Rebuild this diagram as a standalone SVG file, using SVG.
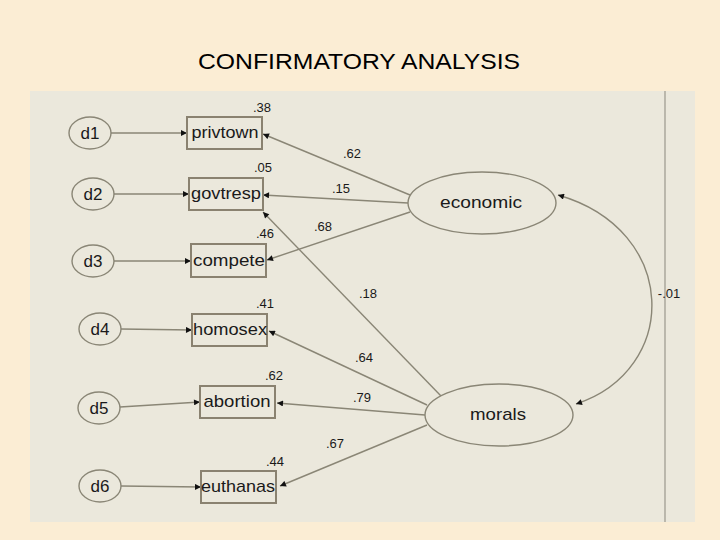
<svg xmlns="http://www.w3.org/2000/svg" width="720" height="540" viewBox="0 0 720 540">
<style>
  .bg{fill:#fbedd4}
  .panel{fill:#ebe8dc}
  .node ellipse{fill:#ebe8dc;stroke:#8a8676;stroke-width:1.4}
  .node rect{fill:#ebe8dc;stroke:#8a8270;stroke-width:2}
  .lbl{font-family:"Liberation Sans",Arial,sans-serif;font-size:17px;fill:#1a1a1a}
  .num{font-family:"Liberation Sans",Arial,sans-serif;font-size:13px;fill:#1a1a1a}
  .title{font-family:"Liberation Sans",Arial,sans-serif;font-size:22px;fill:#000}
  #connectors path,#connectors line{stroke:#8a8676;stroke-width:1.4;fill:none}
</style>
<defs>
  <marker id="ah" viewBox="0 0 10 10" refX="10" refY="5" markerWidth="7" markerHeight="6" markerUnits="userSpaceOnUse" orient="auto-start-reverse">
    <path d="M0,0 L10,5 L0,10 z" fill="#111"/>
  </marker>
</defs>
<rect class="bg" x="0" y="0" width="720" height="540"/>
<rect class="panel" x="30" y="91" width="665" height="431"/>
<line x1="665" y1="91" x2="665" y2="522" stroke="#9a978c" stroke-width="1.2"/>
<text class="title" x="359" y="69" text-anchor="middle" textLength="322" lengthAdjust="spacingAndGlyphs">CONFIRMATORY ANALYSIS</text>

<g id="connectors">
  <line x1="111" y1="133" x2="187" y2="133" marker-end="url(#ah)"/>
  <line x1="114" y1="194" x2="189" y2="194" marker-end="url(#ah)"/>
  <line x1="114" y1="261" x2="191" y2="261" marker-end="url(#ah)"/>
  <line x1="121" y1="329" x2="192" y2="330" marker-end="url(#ah)"/>
  <line x1="120" y1="407" x2="200" y2="402" marker-end="url(#ah)"/>
  <line x1="121" y1="486" x2="201" y2="487" marker-end="url(#ah)"/>
  <line x1="410" y1="195" x2="263" y2="134" marker-end="url(#ah)"/>
  <line x1="408" y1="203" x2="263" y2="195" marker-end="url(#ah)"/>
  <line x1="410" y1="212" x2="267" y2="260" marker-end="url(#ah)"/>
  <line x1="441" y1="396" x2="263" y2="212" marker-end="url(#ah)"/>
  <line x1="427" y1="405" x2="269" y2="331" marker-end="url(#ah)"/>
  <line x1="425" y1="415" x2="277" y2="403" marker-end="url(#ah)"/>
  <line x1="427" y1="425" x2="280" y2="486" marker-end="url(#ah)"/>
  <path d="M558,195 C680,230 680,370 576,404" marker-start="url(#ah)" marker-end="url(#ah)"/>
</g>

<g id="d1" class="node"><ellipse cx="90" cy="133" rx="21" ry="16"/><text class="lbl" x="90" y="139" text-anchor="middle">d1</text></g>
<g id="d2" class="node"><ellipse cx="93" cy="194" rx="21" ry="16"/><text class="lbl" x="93" y="200" text-anchor="middle">d2</text></g>
<g id="d3" class="node"><ellipse cx="93" cy="261" rx="21" ry="16"/><text class="lbl" x="93" y="267" text-anchor="middle">d3</text></g>
<g id="d4" class="node"><ellipse cx="100" cy="329" rx="21" ry="16"/><text class="lbl" x="100" y="335" text-anchor="middle">d4</text></g>
<g id="d5" class="node"><ellipse cx="99" cy="408" rx="21" ry="16"/><text class="lbl" x="99" y="414" text-anchor="middle">d5</text></g>
<g id="d6" class="node"><ellipse cx="100" cy="486" rx="21" ry="16"/><text class="lbl" x="100" y="492" text-anchor="middle">d6</text></g>

<g id="privtown" class="node"><rect x="187" y="117" width="75" height="32"/><text class="lbl" x="225" y="138" text-anchor="middle" textLength="67" lengthAdjust="spacingAndGlyphs">privtown</text><text class="num" x="262" y="112" text-anchor="middle">.38</text></g>
<g id="govtresp" class="node"><rect x="189" y="178" width="74" height="32"/><text class="lbl" x="226" y="199" text-anchor="middle" textLength="70" lengthAdjust="spacingAndGlyphs">govtresp</text><text class="num" x="263" y="172" text-anchor="middle">.05</text></g>
<g id="compete" class="node"><rect x="191" y="244" width="75" height="33"/><text class="lbl" x="229" y="266" text-anchor="middle" textLength="72" lengthAdjust="spacingAndGlyphs">compete</text><text class="num" x="265" y="238" text-anchor="middle">.46</text></g>
<g id="homosex" class="node"><rect x="192" y="314" width="75" height="32"/><text class="lbl" x="230" y="335" text-anchor="middle" textLength="74" lengthAdjust="spacingAndGlyphs">homosex</text><text class="num" x="265" y="308" text-anchor="middle">.41</text></g>
<g id="abortion" class="node"><rect x="200" y="386" width="75" height="32"/><text class="lbl" x="237" y="407" text-anchor="middle" textLength="67" lengthAdjust="spacingAndGlyphs">abortion</text><text class="num" x="274" y="380" text-anchor="middle">.62</text></g>
<g id="euthanas" class="node"><rect x="201" y="471" width="75" height="32"/><text class="lbl" x="238" y="492" text-anchor="middle" textLength="74" lengthAdjust="spacingAndGlyphs">euthanas</text><text class="num" x="275" y="466" text-anchor="middle">.44</text></g>

<g id="economic" class="node"><ellipse cx="482" cy="203" rx="74" ry="31"/><text class="lbl" x="481" y="208" text-anchor="middle" textLength="82" lengthAdjust="spacingAndGlyphs">economic</text></g>
<g id="morals" class="node"><ellipse cx="499" cy="415" rx="74" ry="31"/><text class="lbl" x="498" y="420" text-anchor="middle" textLength="56" lengthAdjust="spacingAndGlyphs">morals</text></g>

<g id="edge-labels">
  <text class="num" x="352" y="158" text-anchor="middle">.62</text>
  <text class="num" x="341" y="193" text-anchor="middle">.15</text>
  <text class="num" x="323" y="231" text-anchor="middle">.68</text>
  <text class="num" x="368" y="298" text-anchor="middle">.18</text>
  <text class="num" x="364" y="362" text-anchor="middle">.64</text>
  <text class="num" x="362" y="402" text-anchor="middle">.79</text>
  <text class="num" x="335" y="448" text-anchor="middle">.67</text>
  <text class="num" x="669" y="298" text-anchor="middle">-.01</text>
</g>
</svg>
